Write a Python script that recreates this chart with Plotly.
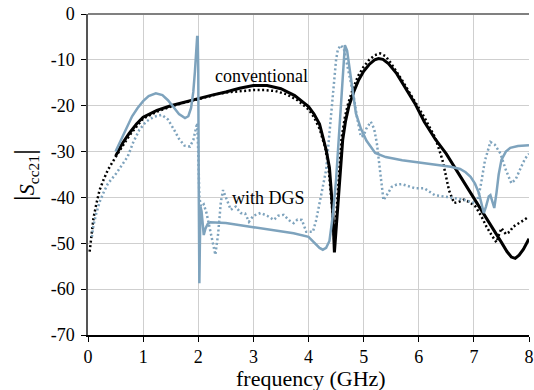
import plotly.graph_objects as go

# ---------------- data ----------------
conv_x = [0.5, 0.62, 0.75, 0.88, 1.0, 1.25, 1.5, 1.75, 2.0, 2.25, 2.5, 2.75, 3.0, 3.25, 3.5, 3.75, 4.0, 4.1, 4.2,
          4.32, 4.38, 4.41, 4.44, 4.47, 4.5, 4.53, 4.57, 4.62, 4.67, 4.73, 4.82, 4.91, 5.0, 5.1, 5.2, 5.27, 5.35,
          5.45, 5.6, 5.75, 5.93, 6.1, 6.3, 6.5, 6.7, 6.9, 7.18, 7.35, 7.5, 7.6, 7.68, 7.75, 7.82, 7.9, 8.0]
conv_y = [-31, -28.3, -26, -24, -22.5, -21, -20, -19.2, -18.4, -17.7, -17, -16.2, -15.6, -15.6, -16.3, -17.8, -20.2,
          -21.8, -24, -29.6, -33.5, -37.7, -43, -52, -47, -41, -34, -27.5, -23.5, -20.2, -17, -14.4, -12.5, -11,
          -10, -9.7, -9.9, -10.8, -13, -16, -19.5, -23.5, -27.3, -30.5, -34.3, -38.1, -43.5, -46.8, -49.8, -51.8,
          -53, -53.3, -52.6, -51.3, -49]

conv_meas_x = [0.03, 0.06, 0.1, 0.15, 0.21, 0.28, 0.36, 0.5, 0.75, 1.0, 1.25, 1.5, 1.75, 2.0, 2.25, 2.4, 2.6, 2.8,
               3.0, 3.2, 3.4, 3.6, 3.8, 4.0, 4.1, 4.2, 4.3, 4.36, 4.4, 4.44, 4.47, 4.5, 4.55, 4.6, 4.66, 4.72, 4.8,
               4.9, 5.0, 5.1, 5.2, 5.3, 5.4, 5.5, 5.7, 5.93, 6.1, 6.3, 6.43, 6.55, 6.64, 6.72, 6.82, 6.92, 7.03,
               7.13, 7.23, 7.32, 7.41, 7.46, 7.5, 7.58, 7.65, 7.71, 7.8, 7.9, 7.96]
conv_meas_y = [-51.8, -48, -44.5, -41.5, -38.4, -36.2, -34, -31.2, -26.5, -22.8, -21.3, -20.2, -19.3, -18.6, -17.8,
               -17.3, -17, -16.8, -16.6, -16.6, -16.8, -17.5, -18.8, -20.8, -22.5, -25, -29, -33, -38, -44, -50,
               -45, -35, -27, -22.5, -19.5, -16.5, -13.5, -11.5, -10, -9, -8.6, -9.2, -10.8, -14.5, -19, -22.5,
               -27, -31.8, -38.5, -41.2, -41, -40.5, -41, -42, -44, -46.4, -48.2, -49.8, -48, -46.7, -48, -47.5,
               -46.4, -45.8, -45, -44.5]

dgs_x = [0.5, 0.65, 0.8, 0.9, 1.0, 1.1, 1.23, 1.35, 1.45, 1.55, 1.65, 1.76, 1.82, 1.87, 1.91, 1.94, 1.96, 1.98,
         1.99, 2.0, 2.01, 2.02, 2.03, 2.04, 2.06, 2.08, 2.1, 2.13, 2.17, 2.22, 2.5, 3.0, 3.5, 3.73, 4.0, 4.08,
         4.15, 4.2, 4.26, 4.32, 4.38, 4.44, 4.5, 4.56, 4.62, 4.66, 4.7, 4.75, 4.8, 4.86, 4.95, 5.05, 5.21, 5.4,
         5.7, 6.1, 6.4, 6.58, 6.75, 6.85, 6.94, 7.02, 7.09, 7.14, 7.18, 7.22, 7.27, 7.3, 7.33, 7.37, 7.41, 7.45,
         7.5, 7.58, 7.66, 7.8, 8.0]
dgs_y = [-30, -26, -22.3, -20.5, -19, -17.9, -17.3, -17.7, -18.8, -20.3, -21.8, -22.7, -22.3, -20.5, -17, -12.5,
         -8, -5, -5, -12, -40, -58.7, -50, -42, -43, -46, -48.2, -46.8, -45.8, -45.4, -45.6, -46.5, -47.3, -47.8,
         -48.6, -49.6, -50.5, -51, -51.4, -51, -49.5, -44, -36.2, -25.3, -12.2, -6.8, -8, -12.5, -17.5, -21.7,
         -25, -27.6, -30.3, -31.2, -31.9, -32.5, -33, -33.3, -33.8, -34.5, -35.5, -37, -39, -41.5, -43.4, -42,
         -39.8, -39.5, -40.5, -42.3, -39, -35, -31.8, -30, -29.2, -28.8, -28.6]

dgs_meas_x = [0.07, 0.1, 0.15, 0.21, 0.28, 0.36, 0.51, 0.6, 0.72, 0.82, 0.93, 1.05, 1.2, 1.34, 1.45, 1.55, 1.65,
              1.75, 1.85, 1.91, 1.95, 1.98, 2.0, 2.02, 2.05, 2.1, 2.15, 2.2, 2.26, 2.31, 2.36, 2.41, 2.45, 2.52,
              2.59, 2.68, 2.77, 2.85, 2.92, 3.0, 3.13, 3.25, 3.37, 3.45, 3.55, 3.65, 3.73, 3.8, 3.88, 3.96, 4.08,
              4.14, 4.2, 4.26, 4.32, 4.38, 4.44, 4.5, 4.53, 4.58, 4.64, 4.7, 4.76, 4.82, 4.88, 4.95, 5.0, 5.05,
              5.13, 5.19, 5.24, 5.3, 5.36, 5.42, 5.51, 5.6, 5.69, 5.8, 5.93, 6.1, 6.29, 6.52, 6.82, 6.95, 7.05,
              7.12, 7.2, 7.3, 7.38, 7.48, 7.58, 7.68, 7.76, 7.86, 7.93, 8.0]
dgs_meas_y = [-48.6, -46, -43.5, -41, -39, -37, -34.8, -33.2, -31.1, -28, -25.3, -23.5, -22.4, -22, -23, -25,
              -27.2, -28.7, -28.9, -27.5, -25, -23.8, -30, -40, -42, -41.5, -43.4, -46.4, -50, -52.5, -48, -41,
              -38.4, -40.5, -42.7, -42, -43.4, -43.5, -45.3, -44, -43.4, -44, -44.9, -44, -43.8, -45, -45.6,
              -44.8, -44.9, -47.5, -47.5, -44.9, -41.3, -38, -34, -26, -18, -10, -7.9, -6.8, -7.5, -11, -15,
              -18, -22.5, -26.8, -26.5, -25, -23.5, -25, -28.2, -34, -40.6, -39.5, -37.7, -37.2, -37.1, -37.5,
              -38, -38, -39.5, -39.9, -40.5, -41, -41.3, -37.7, -32, -27.9, -28.5, -30.4, -34, -36.9, -36,
              -33.3, -31.5, -30.5]

x_ticks = [0, 1, 2, 3, 4, 5, 6, 7, 8]
x_tick_labels = ["0", "1", "2", "3", "4", "5", "6", "7", "8"]
y_ticks = [0, -10, -20, -30, -40, -50, -60, -70]
y_tick_labels = ["0", "-10", "-20", "-30", "-40", "-50", "-60", "-70"]

BLUE = "#7ea3bd"
DOT = "2px,2.5px"
FONT = "Liberation Serif"

fig = go.Figure()
fig.add_trace(go.Scatter(x=conv_meas_x, y=conv_meas_y, mode="lines",
                         line=dict(color="black", width=2.5, dash=DOT)))
fig.add_trace(go.Scatter(x=dgs_meas_x, y=dgs_meas_y, mode="lines",
                         line=dict(color=BLUE, width=2.5, dash=DOT)))
fig.add_trace(go.Scatter(x=conv_x, y=conv_y, mode="lines",
                         line=dict(color="black", width=3)))
fig.add_trace(go.Scatter(x=dgs_x, y=dgs_y, mode="lines",
                         line=dict(color=BLUE, width=2.5)))

fig.update_layout(
    width=534, height=390,
    margin=dict(l=88, r=0, t=14, b=55),
    plot_bgcolor="white", paper_bgcolor="white",
    showlegend=False,
    font=dict(family=FONT, size=18, color="black"),
)
fig.update_xaxes(range=[0, 8], tickvals=x_ticks, ticktext=x_tick_labels,
                 showgrid=True, gridcolor="#cfcfcf", gridwidth=1,
                 showline=True, linecolor="black", linewidth=1.5,
                 ticks="outside", ticklen=5, tickcolor="black", tickwidth=1.2,
                 zeroline=False, tickfont=dict(family=FONT, size=18, color="black"),
                 ticklabeloverflow="allow")
fig.update_yaxes(range=[-70, 0], tickvals=y_ticks, ticktext=y_tick_labels,
                 showgrid=True, gridcolor="#cfcfcf", gridwidth=1,
                 showline=True, linecolor="#555555", linewidth=1.5,
                 ticks="outside", ticklen=5, tickcolor="black", tickwidth=1.2,
                 zeroline=False, tickfont=dict(family=FONT, size=18, color="black"),
                 ticklabelstandoff=3)

fig.add_shape(type="line", xref="paper", yref="paper", x0=0, x1=1, y0=1, y1=1,
              line=dict(color="#808080", width=2))

fig.add_annotation(x=3.14, y=-13.5, xref="x", yref="y", text="conventional",
                   xanchor="center", yanchor="middle",
                   showarrow=False, font=dict(family=FONT, size=18, color="black"))
fig.add_annotation(x=3.27, y=-40.2, xref="x", yref="y", text="with DGS",
                   xanchor="center", yanchor="middle",
                   showarrow=False, font=dict(family=FONT, size=18, color="black"))
fig.add_annotation(x=0.505, y=-0.137, xref="paper", yref="paper", text="frequency (GHz)",
                   xanchor="center", yanchor="middle",
                   showarrow=False, font=dict(family=FONT, size=22, color="black"))
fig.add_annotation(x=-0.1435, y=0.497, xref="paper", yref="paper", textangle=-90,
                   xanchor="center", yanchor="middle",
                   text='<span style="font-size:30px">|</span><i>S</i><sub>cc21</sub><span style="font-size:30px">|</span>',
                   showarrow=False, font=dict(family=FONT, size=22, color="black"))

fig.write_html("out.html")
